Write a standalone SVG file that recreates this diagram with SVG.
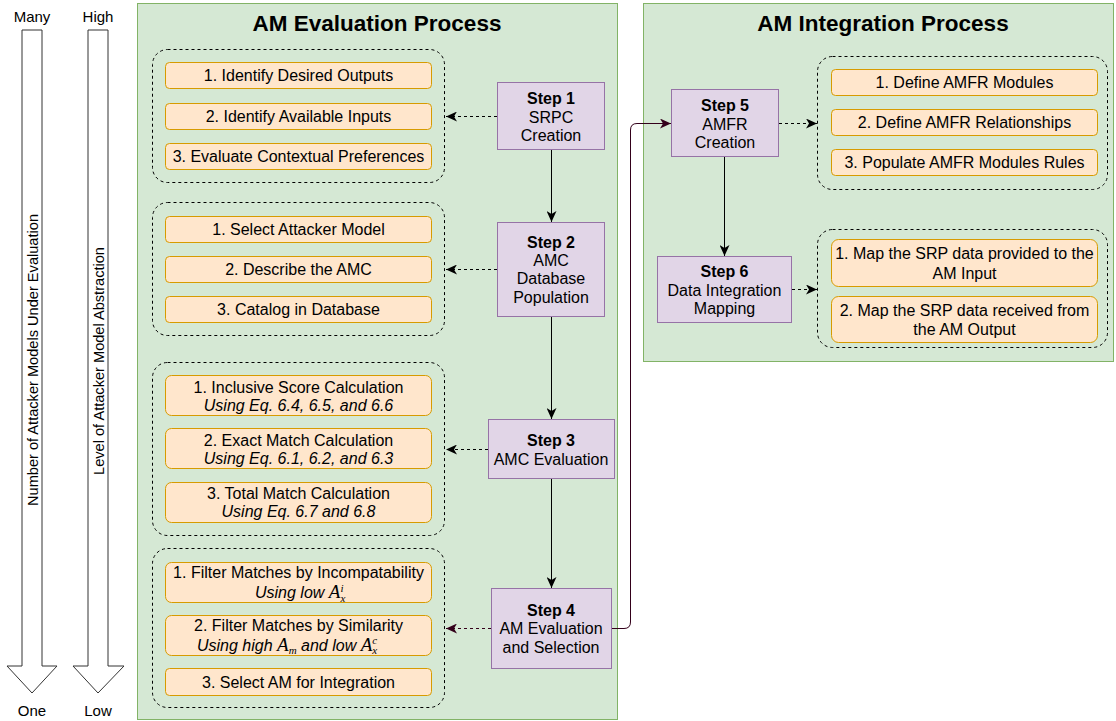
<svg xmlns="http://www.w3.org/2000/svg" width="1116" height="721" viewBox="0 0 1116 721">
<defs>
<style>
text{font-family:"Liberation Sans",Arial,Helvetica,sans-serif;fill:#000;}
.panel{fill:#d5e8d4;stroke:#82b366;stroke-width:1;}
.title{font-size:22.5px;font-weight:bold;text-anchor:middle;}
.grp{fill:none;stroke:#000;stroke-width:1;stroke-dasharray:3 3;}
.sub{fill:#ffe6cc;stroke:#d79b00;stroke-width:1;}
.step{fill:#e1d5e7;stroke:#9673a6;stroke-width:1;}
.t{font-size:16px;text-anchor:middle;}
.b{font-weight:bold;}
.i{font-style:italic;}
.m{font-family:"Liberation Serif","DejaVu Serif",serif;font-style:italic;}
.big{fill:#fff;stroke:#333;stroke-width:1;}
.lab{font-size:15px;text-anchor:middle;}
.solid{fill:none;stroke:#000;stroke-width:1;}
.dash{fill:none;stroke:#000;stroke-width:1;stroke-dasharray:3 3;}
.dashp{fill:none;stroke:#33001A;stroke-width:1;stroke-dasharray:3 3;}
.link{fill:none;stroke:#33001A;stroke-width:1;}
</style>
<marker id="ah" markerUnits="userSpaceOnUse" markerWidth="12" markerHeight="10" viewBox="0 0 12 10" refX="11" refY="5" orient="auto">
<path d="M0,0 L11,5 L0,10 L3,5 z" fill="#000"/>
</marker>
<marker id="ahp" markerUnits="userSpaceOnUse" markerWidth="12" markerHeight="10" viewBox="0 0 12 10" refX="11" refY="5" orient="auto">
<path d="M0,0 L11,5 L0,10 L3,5 z" fill="#33001A"/>
</marker>
</defs>
<rect width="1116" height="721" fill="#fff"/>

<g id="scale-arrows">
<path class="big" d="M22,30 H42 V666 H57 L32,693 L7,666 H22 Z"/>
<path class="big" d="M88,30 H108 V666 H124 L98,693 L73,666 H88 Z"/>
<text class="lab" x="32" y="22">Many</text>
<text class="lab" x="98" y="22">High</text>
<text class="lab" x="32" y="716">One</text>
<text class="lab" x="98" y="716">Low</text>
<text font-size="14.6" text-anchor="middle" transform="translate(37.5,360) rotate(-90)">Number of Attacker Models Under Evaluation</text>
<text font-size="14.6" text-anchor="middle" transform="translate(103.5,361) rotate(-90)">Level of Attacker Model Abstraction</text>
</g>

<g id="panel-eval">
<rect class="panel" x="137.5" y="3.5" width="480" height="716"/>
<text class="title" x="377" y="31">AM Evaluation Process</text>
</g>
<g id="panel-int">
<rect class="panel" x="643.5" y="3.5" width="470" height="358"/>
<text class="title" x="883" y="31">AM Integration Process</text>
</g>

<g id="group1">
<rect class="grp" x="152.5" y="49.5" width="292" height="133" rx="15"/>
<rect class="sub" x="165.5" y="62.5" width="266" height="26" rx="4"/>
<rect class="sub" x="165.5" y="103.5" width="266" height="26" rx="4"/>
<rect class="sub" x="165.5" y="143.5" width="266" height="26" rx="4"/>
<text class="t" x="298.5" y="81">1. Identify Desired Outputs</text>
<text class="t" x="298.5" y="121.5">2. Identify Available Inputs</text>
<text class="t" x="298.5" y="161.5">3. Evaluate Contextual Preferences</text>
</g>

<g id="group2">
<rect class="grp" x="152.5" y="202.5" width="292" height="133" rx="15"/>
<rect class="sub" x="165.5" y="216.5" width="266" height="26" rx="4"/>
<rect class="sub" x="165.5" y="256.5" width="266" height="26" rx="4"/>
<rect class="sub" x="165.5" y="296.5" width="266" height="26" rx="4"/>
<text class="t" x="298.5" y="234.5">1. Select Attacker Model</text>
<text class="t" x="298.5" y="274.5">2. Describe the AMC</text>
<text class="t" x="298.5" y="314.5">3. Catalog in Database</text>
</g>

<g id="group3">
<rect class="grp" x="152.5" y="362.5" width="292" height="173" rx="15"/>
<rect class="sub" x="165.5" y="375.5" width="266" height="40" rx="6"/>
<rect class="sub" x="165.5" y="428.5" width="266" height="40" rx="6"/>
<rect class="sub" x="165.5" y="482.5" width="266" height="40" rx="6"/>
<text class="t" x="298.5" y="392.5">1. Inclusive Score Calculation</text>
<text class="t i" x="298.5" y="410.5">Using Eq. 6.4, 6.5, and 6.6</text>
<text class="t" x="298.5" y="445.5">2. Exact Match Calculation</text>
<text class="t i" x="298.5" y="464">Using Eq. 6.1, 6.2, and 6.3</text>
<text class="t" x="298.5" y="498.5">3. Total Match Calculation</text>
<text class="t i" x="298.5" y="517">Using Eq. 6.7 and 6.8</text>
</g>

<g id="group4">
<rect class="grp" x="152.5" y="548.5" width="292" height="159" rx="15"/>
<rect class="sub" x="165.5" y="562.5" width="266" height="40" rx="6"/>
<rect class="sub" x="165.5" y="615.5" width="266" height="40" rx="6"/>
<rect class="sub" x="165.5" y="668.5" width="266" height="27" rx="4"/>
<text class="t" x="298.5" y="578">1. Filter Matches by Incompatability</text>
<text font-size="16" x="255" y="598"><tspan class="i">Using low </tspan><tspan class="m" font-size="19">A</tspan><tspan class="m" font-size="11" dy="4">x</tspan><tspan class="m" font-size="11" dx="-4.9" dy="-10.5">i</tspan></text>
<text class="t" x="298.5" y="631">2. Filter Matches by Similarity</text>
<text font-size="16" x="197" y="650.5"><tspan class="i">Using high </tspan><tspan class="m" font-size="19">A</tspan><tspan class="m" font-size="11" dy="3.5">m</tspan><tspan class="i" dy="-3.5"> and low </tspan><tspan class="m" font-size="19">A</tspan><tspan class="m" font-size="11" dy="3.5">x</tspan><tspan class="m" font-size="11" dx="-4.9" dy="-10">c</tspan></text>
<text class="t" x="298.5" y="687.5">3. Select AM for Integration</text>
</g>

<g id="step1">
<rect class="step" x="497.5" y="82.5" width="107" height="67"/>
<text class="t b" x="551" y="103.5">Step 1</text>
<text class="t" x="551" y="122.5">SRPC</text>
<text class="t" x="551" y="140.5">Creation</text>
</g>
<g id="step2">
<rect class="step" x="497.5" y="222.5" width="107" height="94"/>
<text class="t b" x="551" y="247.5">Step 2</text>
<text class="t" x="551" y="265.5">AMC</text>
<text class="t" x="551" y="284">Database</text>
<text class="t" x="551" y="302.5">Population</text>
</g>
<g id="step3">
<rect class="step" x="488.5" y="419.5" width="126" height="59"/>
<text class="t b" x="551" y="445.5">Step 3</text>
<text class="t" x="551" y="464.5">AMC Evaluation</text>
</g>
<g id="step4">
<rect class="step" x="491.5" y="588.5" width="120" height="80"/>
<text class="t b" x="551" y="615.5">Step 4</text>
<text class="t" x="551" y="634">AM Evaluation</text>
<text class="t" x="551" y="652.5">and Selection</text>
</g>

<g id="group5">
<rect class="grp" x="817.5" y="56.5" width="290" height="133" rx="15"/>
<rect class="sub" x="831.5" y="69.5" width="266" height="26" rx="4"/>
<rect class="sub" x="831.5" y="109.5" width="266" height="26" rx="4"/>
<rect class="sub" x="831.5" y="149.5" width="266" height="26" rx="4"/>
<text class="t" x="964.5" y="88">1. Define AMFR Modules</text>
<text class="t" x="964.5" y="128">2. Define AMFR Relationships</text>
<text class="t" x="964.5" y="168">3. Populate AMFR Modules Rules</text>
</g>
<g id="group6">
<rect class="grp" x="817.5" y="229.5" width="290" height="118" rx="15"/>
<rect class="sub" x="831.5" y="239.5" width="266" height="47" rx="7"/>
<rect class="sub" x="831.5" y="296.5" width="266" height="46" rx="7"/>
<text class="t" x="964.5" y="258.5">1. Map the SRP data provided to the</text>
<text class="t" x="964.5" y="278.5">AM Input</text>
<text class="t" x="964.5" y="315.5">2. Map the SRP data received from</text>
<text class="t" x="964.5" y="334.5">the AM Output</text>
</g>

<g id="step5">
<rect class="step" x="671.5" y="89.5" width="107" height="67"/>
<text class="t b" x="725" y="110.5">Step 5</text>
<text class="t" x="725" y="129.5">AMFR</text>
<text class="t" x="725" y="147.5">Creation</text>
</g>
<g id="step6">
<rect class="step" x="657.5" y="256.5" width="134" height="66"/>
<text class="t b" x="724.5" y="276.5">Step 6</text>
<text class="t" x="724.5" y="295.5">Data Integration</text>
<text class="t" x="724.5" y="313.5">Mapping</text>
</g>

<g id="connectors">
<path class="solid" d="M551.5,150 V222" marker-end="url(#ah)"/>
<path class="solid" d="M551.5,317 V419" marker-end="url(#ah)"/>
<path class="solid" d="M551.5,479 V588" marker-end="url(#ah)"/>
<path class="solid" d="M724.5,157 V256" marker-end="url(#ah)"/>
<path class="dash" d="M497,116.5 H446" marker-end="url(#ah)"/>
<path class="dash" d="M497,269.5 H446" marker-end="url(#ah)"/>
<path class="dash" d="M488,449.5 H446" marker-end="url(#ah)"/>
<path class="dashp" d="M491,628.5 H446" marker-end="url(#ahp)"/>
<path class="dash" d="M779,123.5 H817" marker-end="url(#ah)"/>
<path class="dash" d="M792,289.5 H817" marker-end="url(#ah)"/>
<path class="link" d="M612,628.5 H624 Q630.5,628.5 630.5,622 V130 Q630.5,123.5 637,123.5 H671" marker-end="url(#ahp)"/>
</g>
</svg>
